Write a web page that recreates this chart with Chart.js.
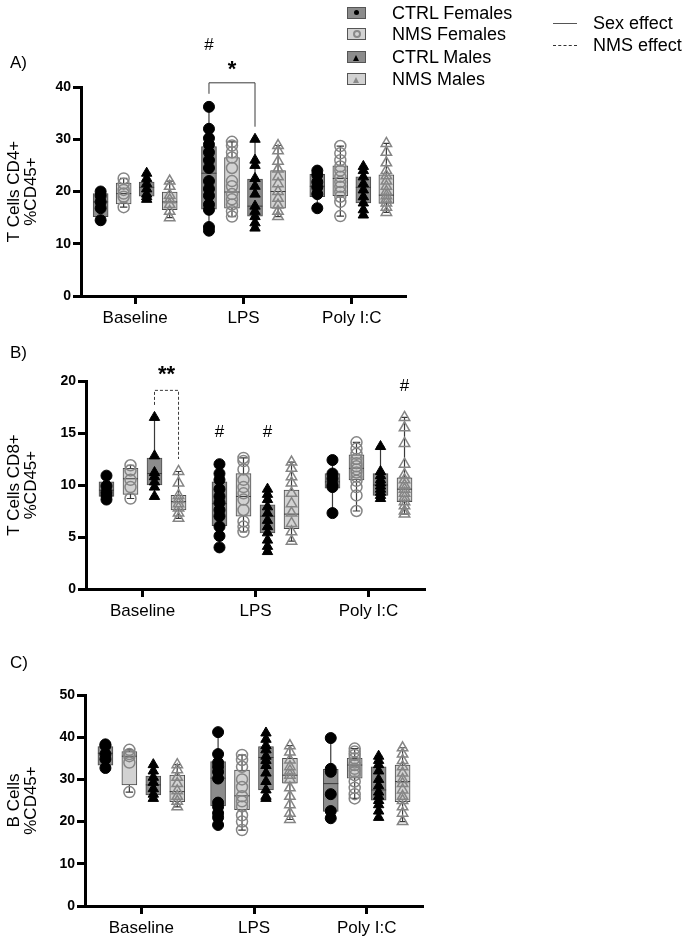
<!DOCTYPE html>
<html><head><meta charset="utf-8">
<script src="https://cdn.jsdelivr.net/npm/chart.js@4.4.1/dist/chart.umd.min.js"></script>
<style>
html,body{margin:0;padding:0;background:#fff;}
body{width:688px;height:945px;position:relative;overflow:hidden;font-family:"Liberation Sans",Arial,Helvetica,sans-serif;}
canvas{position:absolute;left:0;}
.lbl{position:absolute;font-size:17px;line-height:1;color:#000;transform:translateY(-50%);}
.leg{position:absolute;font-size:18px;line-height:1;color:#000;white-space:nowrap;transform:translateY(-50%);}
.icon{position:absolute;width:17px;height:10px;border:1px solid #555;box-sizing:content-box;}
.dot{position:absolute;left:6px;top:2px;width:5px;height:5px;border-radius:50%;background:#000;}
.ring{position:absolute;left:5px;top:1px;width:4px;height:4px;border-radius:50%;border:2px solid #8a8a8a;}
.tri{position:absolute;left:5px;top:3px;width:0;height:0;border-left:3.5px solid transparent;border-right:3.5px solid transparent;border-bottom:6px solid #000;}
.tri2{border-bottom-color:#8a8a8a;}
.ln{position:absolute;width:24px;height:0;}
</style></head><body>
<canvas id="cA"></canvas>
<canvas id="cB"></canvas>
<canvas id="cC"></canvas>

<div class="lbl" style="left:10px;top:62px;">A)</div>
<div class="lbl" style="left:10px;top:352px;">B)</div>
<div class="lbl" style="left:10px;top:662px;">C)</div>

<div class="icon" style="left:347px;top:7px;background:#8c8c8c;"><div class="dot"></div></div>
<div class="leg" style="left:392px;top:13px;">CTRL Females</div>
<div class="icon" style="left:347px;top:28px;background:#d2d2d2;"><div class="ring"></div></div>
<div class="leg" style="left:392px;top:34px;">NMS Females</div>
<div class="icon" style="left:347px;top:51px;background:#8c8c8c;"><div class="tri"></div></div>
<div class="leg" style="left:392px;top:57px;">CTRL Males</div>
<div class="icon" style="left:347px;top:73px;background:#d2d2d2;"><div class="tri tri2"></div></div>
<div class="leg" style="left:392px;top:79px;">NMS Males</div>

<div class="ln" style="left:553px;top:23px;border-top:1.5px solid #555;"></div>
<div class="leg" style="left:593px;top:23px;">Sex effect</div>
<div class="ln" style="left:553px;top:45px;border-top:1px dashed #333;"></div>
<div class="leg" style="left:593px;top:45px;">NMS effect</div>

<script>
// ---------- shared categories ----------
const categories = ['Baseline', 'LPS', 'Poly I:C'];
const groupNames = ['CTRL Females', 'NMS Females', 'CTRL Males', 'NMS Males'];

// ---------- Panel A: T Cells CD4+ %CD45+ (individual values per category) ----------
const cd4CtrlF = [[20.0, 19.2, 18.0, 16.8, 14.5],
                  [36.2, 32.0, 30.2, 29.0, 27.5, 26.0, 24.5, 22.0, 20.5, 19.2, 17.5, 16.5, 13.2, 12.5],
                  [24.0, 23.2, 21.8, 20.8, 19.5, 16.8]];
const cd4NmsF  = [[22.5, 21.5, 20.3, 19.6, 19.0, 17.0],
                  [29.5, 28.8, 27.5, 26.5, 24.5, 22.0, 21.0, 19.5, 18.5, 17.5, 16.2, 15.2],
                  [28.7, 27.3, 26.0, 24.8, 24.0, 22.8, 21.8, 20.9, 19.9, 19.0, 18.0, 15.3]];
const cd4CtrlM = [[23.5, 22.5, 21.5, 20.5, 19.5, 19.0, 18.5],
                  [30.0, 26.0, 25.0, 22.5, 21.0, 19.5, 17.2, 16.2, 15.2, 14.0, 13.0],
                  [24.8, 24.0, 22.8, 21.5, 20.3, 19.0, 17.8, 16.5, 15.5]];
const cd4NmsM  = [[22.0, 21.0, 19.3, 18.4, 17.5, 16.2, 15.0],
                  [28.8, 27.8, 25.8, 24.3, 22.8, 21.5, 20.0, 18.7, 17.4, 16.2, 15.2],
                  [29.2, 27.5, 25.5, 24.0, 23.0, 22.0, 21.0, 20.0, 19.2, 18.5, 17.8, 17.0, 16.0]];
// box [Q1, median, Q3]
const cd4CtrlFBox = [[15.2, 18.0, 19.6], [16.6, 23.5, 28.6], [19.0, 21.0, 23.3]];
const cd4NmsFBox  = [[17.6, 19.6, 21.6], [16.8, 19.9, 26.5], [19.2, 22.5, 24.9]];
const cd4CtrlMBox = [[19.1, 20.8, 21.8], [15.3, 17.2, 22.4], [17.8, 20.8, 22.8]];
const cd4NmsMBox  = [[16.5, 18.0, 19.9], [16.8, 20.0, 24.0], [17.7, 19.3, 23.2]];
const cd4Ticks = [0, 10, 20, 30, 40];

// ---------- Panel B: T Cells CD8+ %CD45+ ----------
const cd8CtrlF = [[10.9, 9.9, 9.3, 9.0, 8.6],
                  [12.0, 11.1, 10.5, 9.6, 8.9, 8.3, 7.6, 7.0, 6.0, 5.1, 4.0],
                  [12.4, 11.1, 10.6, 10.0, 9.8, 7.3]];
const cd8NmsF  = [[11.9, 11.4, 10.5, 9.8, 8.7],
                  [12.6, 12.3, 11.5, 10.5, 9.8, 9.2, 8.6, 7.6, 6.5, 6.0, 5.5],
                  [14.1, 13.5, 13.0, 12.5, 12.1, 11.8, 11.5, 11.2, 10.8, 10.4, 9.8, 9.0, 7.5]];
const cd8CtrlM = [[16.5, 12.8, 11.2, 10.8, 10.3, 9.8, 8.9],
                  [9.6, 9.1, 8.6, 7.9, 7.3, 6.6, 6.0, 5.4, 4.7, 4.1, 3.6],
                  [13.7, 11.3, 10.9, 10.5, 10.2, 9.9, 9.6, 9.3, 9.0, 8.7]];
const cd8NmsM  = [[11.3, 10.2, 9.0, 8.6, 8.2, 7.8, 7.3, 6.8],
                  [12.2, 11.6, 10.8, 10.2, 9.2, 8.2, 7.3, 6.3, 5.5, 4.6],
                  [16.5, 15.5, 14.0, 12.0, 11.0, 10.5, 10.0, 9.6, 9.2, 8.8, 8.4, 8.0, 7.5, 7.2]];
const cd8CtrlFBox = [[8.9, 9.5, 10.3], [6.1, 8.2, 10.3], [9.7, 10.3, 11.1]];
const cd8NmsFBox  = [[9.1, 10.6, 11.6], [7.0, 8.9, 11.1], [10.5, 11.6, 12.9]];
const cd8CtrlMBox = [[10.0, 11.1, 12.6], [5.4, 7.0, 8.1], [9.0, 10.0, 11.1]];
const cd8NmsMBox  = [[7.6, 8.4, 9.0], [5.8, 7.2, 9.5], [8.4, 9.6, 10.7]];
const cd8Ticks = [0, 5, 10, 15, 20];

// ---------- Panel C: B Cells %CD45+ ----------
const bCtrlF = [[38.3, 38.0, 36.0, 34.8, 32.7],
                [41.2, 36.0, 34.0, 33.0, 31.8, 30.2, 24.5, 23.5, 22.0, 21.0, 19.2],
                [39.8, 32.5, 31.8, 26.5, 22.5, 20.8]];
const bNmsF  = [[37.0, 36.0, 35.5, 34.0, 27.0],
                [35.8, 34.6, 33.0, 30.0, 28.2, 26.0, 24.8, 23.6, 21.5, 20.0, 18.0],
                [37.3, 36.6, 35.8, 35.0, 34.0, 33.4, 32.5, 31.8, 31.0, 29.5, 28.0, 26.5, 25.5]];
const bCtrlM = [[33.5, 32.0, 30.5, 29.3, 27.8, 26.5, 25.5],
                [41.0, 39.5, 38.0, 37.0, 35.5, 34.5, 33.3, 31.5, 29.5, 27.5, 26.0, 25.5],
                [35.5, 34.5, 33.5, 32.0, 30.0, 28.5, 27.0, 26.0, 25.0, 24.0, 22.5, 21.0]];
const bNmsM  = [[33.5, 32.3, 30.5, 29.0, 27.3, 26.0, 24.8, 23.5],
                [38.0, 36.5, 34.6, 33.0, 32.0, 31.0, 30.0, 28.0, 26.0, 24.0, 22.0, 20.5],
                [37.5, 36.0, 34.5, 33.0, 31.5, 30.0, 29.0, 27.5, 26.0, 25.0, 23.5, 22.0, 20.0]];
const bCtrlFBox = [[33.4, 36.2, 37.8], [23.7, 30.3, 34.2], [22.4, 29.0, 32.4]];
const bNmsFBox  = [[28.7, 35.5, 36.6], [22.8, 26.1, 32.2], [30.3, 33.4, 35.0]];
const bCtrlMBox = [[26.3, 28.7, 30.8], [27.5, 35.2, 37.8], [25.1, 27.5, 33.0]];
const bNmsMBox  = [[24.7, 27.1, 31.0], [29.1, 31.0, 35.0], [24.7, 29.5, 33.4]];
const bTicks = [0, 10, 20, 30, 40, 50];

// ---------- significance marks ----------
const cd4Marks = [{text: '#', cat: 1, grp: 0, v: 48.0, bold: false, size: 17}];
const cd4Brackets = [{cat: 1, g1: 0, g2: 2, top: 40.8, e1: 38.7, e2: 32.4, dash: false, label: '*', labelV: 43.3}];
const cd8Marks = [{text: '#', cat: 1, grp: 0, v: 15.1, bold: false, size: 17},
                  {text: '#', cat: 1, grp: 2, v: 15.1, bold: false, size: 17},
                  {text: '#', cat: 2, grp: 3, v: 19.5, bold: false, size: 17}];
const cd8Brackets = [{cat: 0, g1: 2, g2: 3, top: 19.1, e1: 17.7, e2: 12.5, dash: true, label: '**', labelV: 20.6}];

// ---------- styling ----------
const CAT = 0.85;          // share of each category used by the 4 groups
const BOX_W = 15;          // box width in px
const FONT = '"Liberation Sans", Arial, Helvetica, sans-serif';
const boxFill = ['#8c8c8c', '#d2d2d2', '#8c8c8c', '#d2d2d2'];
const ptStyle = [
  {pointStyle: 'circle', radius: 5.5, bg: '#000', border: '#000', bw: 1},
  {pointStyle: 'circle', radius: 5.5, bg: 'rgba(0,0,0,0)', border: '#858585', bw: 1.5},
  {pointStyle: 'triangle', radius: 6, bg: '#000', border: '#000', bw: 1},
  {pointStyle: 'triangle', radius: 6, bg: 'rgba(0,0,0,0)', border: '#858585', bw: 1.5}
];
const groupPos = (c, k) => c + (k - 1.5) * CAT / 4;

function makePanel(id, top, height, area, ticks, title, pts, boxes, marks, brackets) {
  const cv = document.getElementById(id);
  cv.width = 688; cv.height = height;
  cv.style.top = top + 'px'; cv.style.width = '688px'; cv.style.height = height + 'px';
  const datasets = [];
  boxes.forEach((b, k) => datasets.push({
    type: 'bar', label: groupNames[k], xAxisID: 'xp', yAxisID: 'y', grouped: false,
    data: b.map((q, c) => ({x: groupPos(c, k), y: [q[0], q[2]]})),
    backgroundColor: boxFill[k], borderColor: '#4a4a4a', borderWidth: 1, borderSkipped: false,
    barThickness: BOX_W, order: 2
  }));
  pts.forEach((p, k) => {
    const s = ptStyle[k];
    datasets.push({
      type: 'scatter', label: groupNames[k], xAxisID: 'xp', yAxisID: 'y',
      data: p.flatMap((vals, c) => vals.map(v => ({x: groupPos(c, k), y: v}))),
      pointStyle: s.pointStyle, pointRadius: s.radius, pointBackgroundColor: s.bg,
      pointBorderColor: s.border, pointBorderWidth: s.bw, showLine: false, order: 1
    });
  });

  const extras = {
    id: 'boxExtras' + id,
    beforeDatasetsDraw(chart) {
      const ctx = chart.ctx, y = chart.scales.y;
      ctx.save(); ctx.strokeStyle = '#3a3a3a'; ctx.lineWidth = 1.2;
      pts.forEach((grp, k) => {
        chart.getDatasetMeta(k).data.forEach((el, c) => {
          const vals = grp[c];
          const yl = y.getPixelForValue(Math.min(...vals)), yh = y.getPixelForValue(Math.max(...vals));
          const cw = el.width * 0.5;
          ctx.beginPath();
          ctx.moveTo(el.x, yl); ctx.lineTo(el.x, yh);
          ctx.moveTo(el.x - cw / 2, yl); ctx.lineTo(el.x + cw / 2, yl);
          ctx.moveTo(el.x - cw / 2, yh); ctx.lineTo(el.x + cw / 2, yh);
          ctx.stroke();
        });
      });
      ctx.restore();
    },
    afterDatasetDraw(chart, args) {
      if (args.index > 3) return;
      const ctx = chart.ctx, y = chart.scales.y;
      ctx.save(); ctx.strokeStyle = '#3a3a3a'; ctx.lineWidth = 1;
      args.meta.data.forEach((el, c) => {
        const py = y.getPixelForValue(boxes[args.index][c][1]);
        ctx.beginPath(); ctx.moveTo(el.x - el.width / 2, py); ctx.lineTo(el.x + el.width / 2, py); ctx.stroke();
      });
      ctx.restore();
    },
    afterDraw(chart) {
      const ctx = chart.ctx, y = chart.scales.y;
      const xOf = (g, c) => chart.getDatasetMeta(g).data[c].x;
      ctx.save();
      ctx.fillStyle = '#000'; ctx.textAlign = 'center'; ctx.textBaseline = 'middle';
      (marks || []).forEach(m => {
        ctx.font = (m.bold ? 'bold ' : '') + m.size + 'px ' + FONT;
        ctx.fillText(m.text, xOf(m.grp, m.cat), y.getPixelForValue(m.v));
      });
      (brackets || []).forEach(b => {
        const x1 = xOf(b.g1, b.cat), x2 = xOf(b.g2, b.cat);
        ctx.strokeStyle = '#3a3a3a'; ctx.lineWidth = 1;
        ctx.setLineDash(b.dash ? [3, 2] : []);
        ctx.beginPath();
        ctx.moveTo(x1, y.getPixelForValue(b.e1));
        ctx.lineTo(x1, y.getPixelForValue(b.top));
        ctx.lineTo(x2, y.getPixelForValue(b.top));
        ctx.lineTo(x2, y.getPixelForValue(b.e2));
        ctx.stroke();
        ctx.setLineDash([]);
        ctx.font = 'bold 22px ' + FONT;
        ctx.fillText(b.label, (x1 + x2) / 2, y.getPixelForValue(b.labelV));
      });
      ctx.restore();
    }
  };

  return new Chart(cv, {
    type: 'bar',
    data: {labels: categories, datasets},
    options: {
      responsive: false, animation: false, devicePixelRatio: 1,
      layout: {padding: {left: 0, top: area.top - top, right: 688 - area.right, bottom: 0}},
      plugins: {legend: {display: false}, tooltip: {enabled: false}},
      scales: {
        x: {
          type: 'category', offset: true,
          grid: {display: true, drawOnChartArea: false, drawTicks: true, offset: false,
                 tickLength: 8, tickWidth: 3, tickColor: '#000'},
          border: {display: true, width: 3, color: '#000'},
          ticks: {color: '#000', font: {family: FONT, size: 17}, padding: 4, maxRotation: 0},
          afterFit(s) { s.height = height - (area.bottom - top); }
        },
        xp: {type: 'linear', display: false, offset: false, min: -0.5, max: 2.5,
             grid: {offset: false}},
        y: {
          min: ticks[0], max: ticks[ticks.length - 1],
          afterBuildTicks(s) { s.ticks = ticks.map(v => ({value: v})); },
          grid: {display: true, drawOnChartArea: false, drawTicks: true,
                 tickLength: 8, tickWidth: 3, tickColor: '#000'},
          border: {display: true, width: 3, color: '#000'},
          ticks: {color: '#000', font: {family: FONT, size: 14, weight: 'bold'}, padding: 2},
          title: {display: true, text: title, color: '#000',
                  font: {family: FONT, size: 17, lineHeight: 1.05}, padding: {top: 5, bottom: 0}},
          afterFit(s) { s.width = area.left; }
        }
      }
    },
    plugins: [extras]
  });
}

makePanel('cA', 0, 340, {left: 81, right: 406, top: 87, bottom: 296}, cd4Ticks,
  ['T Cells CD4+', '%CD45+'], [cd4CtrlF, cd4NmsF, cd4CtrlM, cd4NmsM],
  [cd4CtrlFBox, cd4NmsFBox, cd4CtrlMBox, cd4NmsMBox], cd4Marks, cd4Brackets);
makePanel('cB', 340, 300, {left: 86, right: 425, top: 381, bottom: 589}, cd8Ticks,
  ['T Cells CD8+', '%CD45+'], [cd8CtrlF, cd8NmsF, cd8CtrlM, cd8NmsM],
  [cd8CtrlFBox, cd8NmsFBox, cd8CtrlMBox, cd8NmsMBox], cd8Marks, cd8Brackets);
makePanel('cC', 640, 305, {left: 85, right: 423, top: 695, bottom: 906}, bTicks,
  ['B Cells', '%CD45+'], [bCtrlF, bNmsF, bCtrlM, bNmsM],
  [bCtrlFBox, bNmsFBox, bCtrlMBox, bNmsMBox], [], []);
</script>
</body></html>
